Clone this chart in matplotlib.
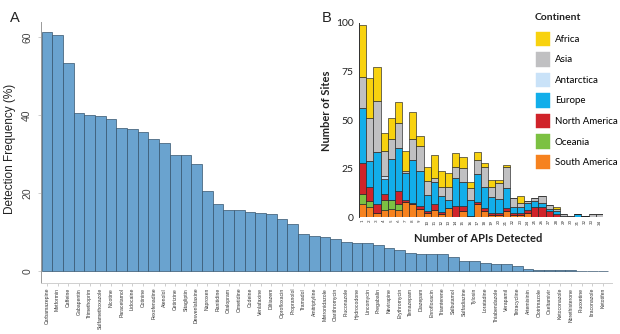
import matplotlib
matplotlib.use("Agg")
import matplotlib.pyplot as plt
import numpy as np
from matplotlib.patches import Patch

# ---------------- Panel A data ----------------
drugs = ["Carbamazepine", "Metformin", "Caffeine", "Gabapentin", "Trimethoprim",
         "Sulfamethoxazole", "Nicotine", "Paracetamol", "Lidocaine", "Cotinine",
         "Fexofenadine", "Atenolol", "Cetirizine", "Sitagliptin", "Desvenlafaxine",
         "Naproxen", "Ranitidine", "Citalopram", "Cimetidine", "Codeine",
         "Venlafaxine", "Diltiazem", "Ciprofloxacin", "Propranolol", "Tramadol",
         "Amitriptyline", "Metronidazole", "Clarithromycin", "Fluconazole", "Hydrocodone",
         "Lincomycin", "Pregabalin", "Nevirapine", "Erythromycin", "Temazepam",
         "Diazepam", "Enrofloxacin", "Triamterene", "Salbutamol", "Sulfadiazine",
         "Tylosin", "Loratadine", "Thiabendazole", "Verapamil", "Tetracycline",
         "Artemisinin", "Clotrimazole", "Oseltamivir", "Ketoconazole", "Norethisterone",
         "Fluoxetine", "Itraconazole", "Ketotifen"]
frequency = [61.2, 60.4, 53.3, 40.4, 39.9, 39.8, 38.9, 36.7, 36.3, 35.6,
             33.7, 32.9, 29.8, 29.8, 27.5, 20.6, 17.2, 15.6, 15.5, 15.2,
             14.9, 14.6, 13.3, 12.0, 9.5, 9.0, 8.7, 8.2, 7.5, 7.1,
             7.1, 6.7, 5.9, 5.3, 4.7, 4.3, 4.3, 4.3, 3.6, 2.6,
             2.6, 2.0, 1.8, 1.7, 1.2, 0.6, 0.3, 0.3, 0.3, 0.2,
             0.1, 0.1, 0.1]
freq_ticks = [0, 20, 40, 60]

# ---------------- Panel B data ----------------
apis_detected = list(range(1, 35))
south_america = [7, 5.5, 2, 3.5, 4.5, 3.7, 8, 7, 4.5, 2, 3.8, 1.5, 5, 0, 3, 0.5, 7, 3.4, 1.2, 1.2,
                 3, 1, 1.2, 2, 0, 0, 0, 0, 0, 0, 0, 0, 0, 0]
oceania = [5, 3, 0, 5.5, 4.5, 3, 0, 0, 0, 0, 0, 0, 0, 0, 0, 0, 0, 0, 0, 0,
           0, 0, 0, 0, 0, 0, 0, 0, 0, 0, 0, 0, 0, 0]
north_america = [16, 7, 5, 3, 0, 7, 1, 0.5, 1.5, 1, 3, 1, 0, 6, 3, 0, 0.8, 1.2, 1.2, 0.8,
                 2, 1, 1.2, 1.7, 5.5, 5.5, 3, 1.7, 0, 0, 0, 0, 0, 0]
europe = [28, 13.5, 26.5, 7.5, 21, 22, 14, 22, 18, 8.5, 11.5, 8.5, 4, 14, 12, 8.4, 14.6, 11.2, 8.2, 7.2,
          10, 3.5, 2.7, 3.5, 3, 2, 1.2, 1.7, 0.6, 0, 1.5, 0.5, 0, 0]
antarctica = [0, 0, 0, 1.5, 0, 0, 0, 0, 0, 0, 0, 0, 0, 0, 0, 0, 0, 0, 0, 0,
              0, 0, 0, 0, 0, 0, 0, 0, 0, 0, 0, 0, 0, 0]
asia = [16, 22, 26.5, 13, 10, 13, 1, 10.8, 12.8, 7, 1.7, 4.5, 6.5, 6, 7.5, 6, 7.2, 10, 5.2, 8.3,
        11, 4.3, 2.4, 1.3, 1.2, 3.5, 2, 0.9, 1, 0.5, 0, 0, 1.5, 1.5]
africa = [27, 20.5, 17, 9.5, 11, 10.3, 10, 13.7, 5, 7.5, 12, 8.3, 7.2, 7, 5.5, 3, 4.2, 2, 3.4, 1.7,
          1, 0, 3.6, 0, 0, 0, 0, 1.2, 0, 0, 0, 0, 0, 0]
sites_ticks = [0, 25, 50, 75, 100]

continent_series = [("South America", south_america, "#f6821f"),
                    ("Oceania", oceania, "#7cc142"),
                    ("North America", north_america, "#d0232a"),
                    ("Europe", europe, "#12aeea"),
                    ("Antarctica", antarctica, "#c9e2f8"),
                    ("Asia", asia, "#c0c0c2"),
                    ("Africa", africa, "#f8d20f")]
legend_order = ["Africa", "Asia", "Antarctica", "Europe", "North America", "Oceania", "South America"]

# ---------------- Figure ----------------
W, H = 620, 334
fig = plt.figure(figsize=(W / 100, H / 100), dpi=100)
fig.patch.set_facecolor("white")


def rect(l, t, r, b):
    return [l / W, 1 - b / H, (r - l) / W, (b - t) / H]


fontA = ["Liberation Sans", "DejaVu Sans"]
fontB = ["Lato", "DejaVu Sans"]

# Panel A
axA = fig.add_axes(rect(40.5, 21.7, 612, 283))
xA = np.arange(len(drugs))
axA.bar(xA, frequency, width=1.0, color="#6aa3cf", edgecolor="#35546d", linewidth=0.5)
axA.set_xlim(-0.6, len(drugs) - 0.5 + 0.35)
axA.set_ylim(-3.1, 63.9)
axA.set_yticks(freq_ticks)
axA.set_yticklabels([str(t) for t in freq_ticks], rotation=90, va="center",
                    fontsize=7.5, color="#444444", family=fontA)
axA.set_xticks(xA)
axA.set_xticklabels(drugs, rotation=90, fontsize=3.7, color="#333333", family=fontA)
axA.tick_params(axis="x", length=2, width=0.4, color="#aaaaaa", pad=1.5)
axA.tick_params(axis="y", length=2, width=0.4, color="#aaaaaa", pad=4)
for s in ["top", "right"]:
    axA.spines[s].set_visible(False)
axA.spines["left"].set_color("#9a9a9a")
axA.spines["left"].set_linewidth(0.7)
axA.spines["bottom"].set_color("#cfcfcf")
axA.spines["bottom"].set_linewidth(0.7)
fig.text(10 / W, 1 - 149 / H, "Detection Frequency (%)", rotation=90, ha="center", va="center",
         fontsize=8.5, color="#222222", family=fontA)
fig.text(10 / W, 1 - 18 / H, "A", ha="left", va="center", fontsize=10.5, color="#222222", family=fontA)

# Panel B
axB = fig.add_axes(rect(359, 22.7, 603, 217.3))
axB.set_facecolor("none")
xB = np.arange(len(apis_detected))
bottom = np.zeros(len(apis_detected))
for name, vals, col in continent_series:
    vals = np.array(vals, dtype=float)
    axB.bar(xB, vals, bottom=bottom, width=1.0, color=col, edgecolor="#222222", linewidth=0.45)
    bottom += vals
axB.set_xlim(-0.5, len(apis_detected) - 0.5)
axB.set_ylim(0, 100)
axB.set_yticks(sites_ticks)
axB.set_yticklabels([str(t) for t in sites_ticks], fontsize=7.5, color="#222222", family=fontB)
axB.set_xticks(xB)
axB.set_xticklabels([str(a) for a in apis_detected], rotation=90, fontsize=3.2, color="#333333", family=fontB)
axB.tick_params(axis="x", length=0, pad=1.5)
axB.tick_params(axis="y", length=0, pad=4)
for s in ["top", "right", "bottom"]:
    axB.spines[s].set_visible(False)
axB.spines["left"].set_color("#333333")
axB.spines["left"].set_linewidth(0.7)
fig.text(478 / W, 1 - 238 / H, "Number of APIs Detected", ha="center", va="center",
         fontsize=8, fontweight="bold", color="#222222", family=fontB)
fig.text(327 / W, 1 - 111 / H, "Number of Sites", rotation=90, ha="center", va="center",
         fontsize=8, fontweight="bold", color="#222222", family=fontB)
fig.text(322 / W, 1 - 18 / H, "B", ha="left", va="center", fontsize=10.5, color="#222222", family=fontA)

colors = {n: c for n, _, c in continent_series}
handles = [Patch(facecolor=colors[n], edgecolor=colors[n], linewidth=0.3, label=n) for n in legend_order]
fs = 7
fig.text(535 / W, 1 - 18 / H, "Continent", ha="left", va="center",
         fontsize=7.5, fontweight="bold", color="#222222", family=fontB)
leg = fig.legend(handles=handles, loc="upper left",
                 bbox_to_anchor=(536 / W, 1 - 31.5 / H), frameon=False,
                 borderpad=0, borderaxespad=0, handlelength=1.44, handleheight=1.92,
                 labelspacing=0.62, handletextpad=0.5,
                 prop={"family": fontB, "size": fs})

fig.savefig("out.png", dpi=100)
